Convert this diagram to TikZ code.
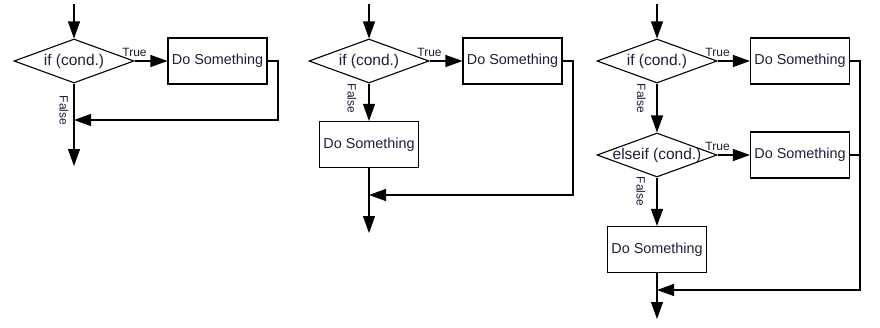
\documentclass[tikz,border=0pt]{standalone}
\usepackage{fontspec}
\setmainfont{Liberation Sans}
\usetikzlibrary{arrows.meta,shapes.geometric,positioning}
\definecolor{ink}{HTML}{1E1E3C}

\begin{document}
\begin{tikzpicture}[x=1pt, y=-1pt,
				line width=1.1pt,
				decision/.style={diamond, draw, aspect=2.7, inner sep=0pt, minimum width=120pt, minimum height=44pt, font=\fontsize{15.5}{18}\selectfont, text=ink},
				action/.style={rectangle, draw, inner sep=1pt, minimum width=99pt, minimum height=46pt, font=\fontsize{14.4}{17}\selectfont, text=ink},
				yes/.style={inner sep=1pt, font=\fontsize{12}{14}\selectfont, text=ink},
				no/.style={inner sep=0pt, rotate=-90, font=\fontsize{12}{14}\selectfont, text=ink},
				flow/.style={-{Triangle[length=17pt, width=12pt]}}
				]
				\useasboundingbox (0,0) rectangle (880,327);
				% if
				\coordinate (s1) at (74,4);
				\node[decision] (d1) at (74,61) {\makebox[0pt]{if (cond.)}};
				\node[action] (b1) at (217.5,61) {Do Something};
				\coordinate (k1) at (278,61);
				\coordinate (m1) at (74,120);
				\coordinate (e1) at (74,166);
				\node[yes, above=3pt of d1.east] (t1) {True};
				\node[no] (f1) at ([xshift=-10pt,yshift=-27pt]d1.south) {False};
				\draw[flow] (s1) -- (d1.north);
				\draw[flow] (d1.east) -- (b1.west);
				\draw[flow] (b1.east) -- (k1) |- (m1);
				\draw[flow] (d1.south) -- (e1);
				% if else
				\coordinate (s2) at (369,4);
				\node[decision] (d2) at (369,61) {\makebox[0pt]{if (cond.)}};
				\node[action] (b2) at (512.5,61) {Do Something};
				\node[action] (b3) at (369,144.5) {Do Something};
				\coordinate (k2) at (573,61);
				\coordinate (m2) at (369,195);
				\coordinate (e2) at (369,233);
				\node[yes, above=3pt of d2.east] (t2) {True};
				\node[no] (f2) at ([xshift=-17pt,yshift=-15pt]d2.south) {False};
				\draw[flow] (s2) -- (d2.north);
				\draw[flow] (d2.east) -- (b2.west);
				\draw[flow] (d2.south) -- (b3.north);
				\draw[flow] (b2.east) -- (k2) |- (m2);
				\draw[flow] (b3.south) -- (e2);
				% if elseif else
				\coordinate (s3) at (657,4);
				\node[decision] (d3) at (657,61) {\makebox[0pt]{if (cond.)}};
				\node[action] (b4) at (800,61) {Do Something};
				\node[decision] (d4) at (657,155) {\makebox[0pt]{elseif (cond.)}};
				\node[action] (b5) at (800,155) {Do Something};
				\node[action] (b6) at (657,249.5) {Do Something};
				\coordinate (k3) at (860,61);
				\coordinate (k4) at (860,155);
				\coordinate (m3) at (657,290);
				\coordinate (e3) at (657,319);
				\node[yes, above=3pt of d3.east] (t3) {True};
				\node[yes, above=3pt of d4.east] (t4) {True};
				\node[no] (f3) at ([xshift=-15.5pt,yshift=-15pt]d3.south) {False};
				\node[no] (f4) at ([xshift=-16pt,yshift=-14pt]d4.south) {False};
				\draw[flow] (s3) -- (d3.north);
				\draw[flow] (d3.east) -- (b4.west);
				\draw[flow] (d3.south) -- (d4.north);
				\draw[flow] (d4.east) -- (b5.west);
				\draw[flow] (d4.south) -- (b6.north);
				\draw[flow] (b4.east) -- (k3) |- (m3);
				\draw (b5.east) -- (k4);
				\draw[flow] (b6.south) -- (e3);
\end{tikzpicture}
\end{document}
